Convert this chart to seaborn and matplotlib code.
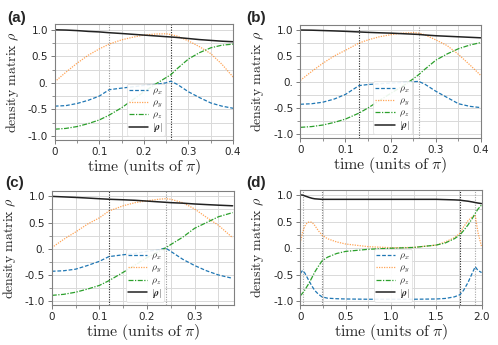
import numpy as np
import pandas as pd
import matplotlib
matplotlib.use("Agg")
import matplotlib.pyplot as plt
from matplotlib.ticker import MultipleLocator, FixedLocator
import seaborn as sns

# ─────────────────────────────────────────────
# Data
# ─────────────────────────────────────────────

t_a = [0, 0.025, 0.05, 0.075, 0.1, 0.122, 0.15, 0.175, 0.2, 0.225, 0.25, 0.26,
       0.275, 0.3, 0.325, 0.35, 0.375, 0.4]
rx_a = [-0.44, -0.43, -0.39, -0.33, -0.25, -0.13, -0.1, -0.075, -0.05, -0.03, 0.0, 0.03,
        -0.03, -0.17, -0.28, -0.38, -0.44, -0.48]
ry_a = [0.02, 0.2, 0.37, 0.52, 0.64, 0.73, 0.81, 0.86, 0.9, 0.92, 0.925, 0.91,
        0.88, 0.79, 0.68, 0.55, 0.35, 0.11]
rz_a = [-0.875, -0.86, -0.825, -0.77, -0.7, -0.61, -0.47, -0.32, -0.17, -0.03, 0.1, 0.15,
        0.27, 0.45, 0.57, 0.66, 0.71, 0.73]
rn_a = [1.0, 0.995, 0.985, 0.97, 0.96, 0.945, 0.93, 0.915, 0.9, 0.885, 0.87, 0.865,
        0.855, 0.835, 0.815, 0.8, 0.785, 0.775]
vl_a = [(0.122, "0.6"), (0.26, "0.15")]

t_b = [0, 0.025, 0.05, 0.075, 0.1, 0.13, 0.15, 0.175, 0.2, 0.225, 0.25, 0.262,
       0.275, 0.3, 0.325, 0.35, 0.375, 0.4]
rx_b = [-0.43, -0.42, -0.39, -0.33, -0.24, -0.07, -0.05, -0.035, -0.02, -0.01, 0.005, 0.01,
        -0.04, -0.18, -0.3, -0.42, -0.47, -0.495]
ry_b = [0.03, 0.2, 0.36, 0.5, 0.61, 0.75, 0.81, 0.87, 0.91, 0.94, 0.95, 0.94,
        0.91, 0.81, 0.7, 0.53, 0.33, 0.12]
rz_b = [-0.875, -0.86, -0.83, -0.78, -0.715, -0.6, -0.5, -0.36, -0.22, -0.09, 0.06, 0.14,
        0.24, 0.42, 0.54, 0.64, 0.71, 0.76]
rn_b = [1.0, 0.997, 0.99, 0.983, 0.975, 0.963, 0.955, 0.947, 0.94, 0.93, 0.92, 0.915,
        0.905, 0.89, 0.88, 0.87, 0.86, 0.85]
vl_b = [(0.13, "0.15"), (0.262, "0.6")]

t_c = [0, 0.025, 0.05, 0.075, 0.1, 0.12, 0.15, 0.175, 0.2, 0.225, 0.239, 0.25,
       0.275, 0.3, 0.325, 0.35, 0.38]
rx_c = [-0.43, -0.42, -0.39, -0.32, -0.24, -0.15, -0.115, -0.09, -0.05, -0.02, 0.015, -0.05,
        -0.2, -0.32, -0.42, -0.5, -0.565]
ry_c = [0.02, 0.18, 0.32, 0.47, 0.59, 0.72, 0.82, 0.88, 0.915, 0.945, 0.955, 0.945,
        0.88, 0.76, 0.6, 0.45, 0.21]
rz_c = [-0.89, -0.87, -0.83, -0.77, -0.7, -0.61, -0.45, -0.31, -0.17, -0.05, 0.015, 0.08,
        0.22, 0.39, 0.5, 0.61, 0.69]
rn_c = [1.0, 0.99, 0.98, 0.968, 0.955, 0.945, 0.935, 0.925, 0.91, 0.895, 0.887, 0.88,
        0.87, 0.855, 0.843, 0.832, 0.82]
vl_c = [(0.12, "0.15"), (0.239, "0.6")]

t_d = [0, 0.025, 0.05, 0.075, 0.1, 0.13, 0.16, 0.2, 0.24, 0.3, 0.4, 0.5, 0.75, 1.0,
       1.25, 1.5, 1.6, 1.7, 1.76, 1.8, 1.85, 1.9, 1.93, 1.96, 2.0]
rx_d = [-0.48, -0.42, -0.47, -0.55, -0.63, -0.72, -0.8, -0.87, -0.92, -0.945, -0.955, -0.96,
        -0.965, -0.965, -0.965, -0.96, -0.95, -0.92, -0.88, -0.8, -0.65, -0.46, -0.35,
        -0.42, -0.46]
ry_d = [0.1, 0.3, 0.42, 0.48, 0.5, 0.49, 0.43, 0.33, 0.25, 0.18, 0.12, 0.08, 0.03, 0.01,
        0.015, 0.06, 0.12, 0.2, 0.28, 0.4, 0.52, 0.6, 0.62, 0.3, 0.03]
rz_d = [-0.9, -0.85, -0.79, -0.72, -0.65, -0.55, -0.45, -0.34, -0.24, -0.17, -0.1, -0.06,
        -0.02, 0.0, 0.015, 0.06, 0.1, 0.18, 0.25, 0.33, 0.44, 0.57, 0.66, 0.74, 0.82]
rn_d = [1.01, 1.005, 0.99, 0.975, 0.96, 0.945, 0.935, 0.93, 0.925, 0.925, 0.925, 0.925,
        0.925, 0.925, 0.925, 0.925, 0.92, 0.915, 0.91, 0.9, 0.89, 0.875, 0.865, 0.855, 0.845]
vl_d = [(0.025, "0.65"), (0.24, "0.5"), (1.76, "0.15"), (1.93, "0.65")]

y_ticks = [-1.0, -0.5, 0.0, 0.5, 1.0]
y_ticklabels = ["-1.0", "-0.5", "0.", "0.5", "1.0"]


# ─────────────────────────────────────────────
# Style
# ─────────────────────────────────────────────

sns.set_theme(style="whitegrid")
plt.rcParams["font.family"] = ["DejaVu Sans"]
plt.rcParams["mathtext.fontset"] = "cm"

SERIES = [
    (r"$\rho_x$", "tab:blue", (0, (3, 1.5)), 0.9, 1.0),
    (r"$\rho_y$", "tab:orange", (0, (1, 1)), 0.9, 0.7),
    (r"$\rho_z$", "tab:green", (0, (4, 1.2, 1, 1.2)), 0.9, 1.0),
    (r"$|\boldsymbol{\rho}|$", "#222222", "-", 1.1, 1.0),
]


def draw_panel(ax, t, rx, ry, rz, rn, vlines, xmax, xmajor, xminor, xticklabels):
    df = pd.DataFrame({"t": t, "rx": rx, "ry": ry, "rz": rz, "rn": rn})
    for col, (lab, color, ls, lw, alpha) in zip(["rx", "ry", "rz", "rn"], SERIES):
        sns.lineplot(data=df, x="t", y=col, ax=ax, color=color, linestyle=ls,
                     linewidth=lw, alpha=alpha, label=lab)
    for x, c in vlines:
        ax.axvline(x, color=c, linestyle=(0, (1, 1.3)), linewidth=0.8, zorder=1)

    ax.set_xlim(0, xmax)
    ax.set_ylim(-1.08, 1.1)
    ax.xaxis.set_major_locator(FixedLocator(xmajor))
    ax.set_xticklabels(xticklabels)
    ax.xaxis.set_minor_locator(MultipleLocator(xminor))
    ax.yaxis.set_major_locator(FixedLocator(y_ticks))
    ax.set_yticklabels(y_ticklabels)
    ax.yaxis.set_minor_locator(MultipleLocator(0.25))
    ax.grid(which="both", color="0.85", linewidth=0.7)
    ax.tick_params(which="major", length=3, width=0.6, color="0.4", labelsize=7.5, pad=2)
    ax.tick_params(which="minor", length=2, width=0.5, color="0.4")
    ax.tick_params(axis="both", which="both", bottom=True, left=True)
    for s in ax.spines.values():
        s.set_color("0.5")
        s.set_linewidth(0.8)

    ax.set_xlabel(r"$\mathrm{time\ (units\ of\ }\pi)$", fontsize=11.5, labelpad=0)
    ax.set_ylabel(r"$\mathrm{density\ matrix\ }\rho$", fontsize=10, labelpad=5)

    leg = ax.legend(loc="lower center", bbox_to_anchor=(0.51, -0.01), fontsize=7,
                    handlelength=2.0, handletextpad=0.4, labelspacing=0.0,
                    borderpad=0.2, framealpha=0.9, edgecolor="0.85", fancybox=True)
    leg.get_frame().set_linewidth(0.5)


fig = plt.figure(figsize=(4.98, 3.45), dpi=100)

ax_a = fig.add_axes([0.110, 0.594, 0.358, 0.335])
ax_b = fig.add_axes([0.603, 0.600, 0.363, 0.328])
ax_c = fig.add_axes([0.104, 0.115, 0.366, 0.331])
ax_d = fig.add_axes([0.603, 0.115, 0.364, 0.334])

draw_panel(ax_a, t_a, rx_a, ry_a, rz_a, rn_a, vl_a, 0.4,
           [0, 0.1, 0.2, 0.3, 0.4], 0.05, ["0", "0.1", "0.2", "0.3", "0.4"])
draw_panel(ax_b, t_b, rx_b, ry_b, rz_b, rn_b, vl_b, 0.4,
           [0, 0.1, 0.2, 0.3, 0.4], 0.05, ["0", "0.1", "0.2", "0.3", "0.4"])
draw_panel(ax_c, t_c, rx_c, ry_c, rz_c, rn_c, vl_c, 0.383,
           [0, 0.1, 0.2, 0.3], 0.05, ["0", "0.1", "0.2", "0.3"])
draw_panel(ax_d, t_d, rx_d, ry_d, rz_d, rn_d, vl_d, 2.0,
           [0, 0.5, 1.0, 1.5, 2.0], 0.25, ["0", "0.5", "1.0", "1.5", "2.0"])

for x, y, lab in [(0.014, 0.968, "(a)"), (0.494, 0.968, "(b)"),
                  (0.010, 0.490, "(c)"), (0.494, 0.490, "(d)")]:
    fig.text(x, y, lab, fontsize=11, fontweight="bold", va="top", ha="left",
             family=["Liberation Sans", "DejaVu Sans"])

fig.savefig("out.png", dpi=100)
